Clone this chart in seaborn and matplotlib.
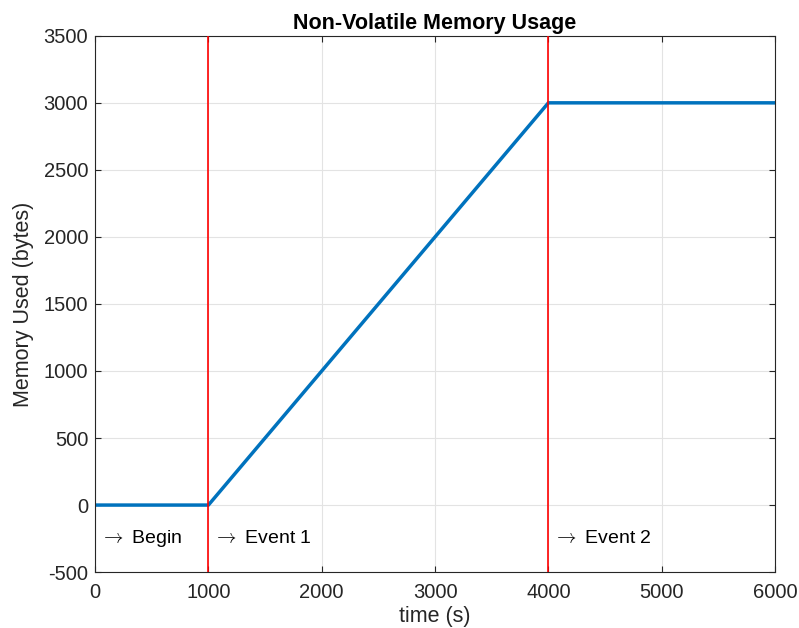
import pandas as pd
import matplotlib
matplotlib.use("Agg")
import matplotlib.pyplot as plt
import seaborn as sns

# data
time_s = [0, 1000, 4000, 6000]
memory_bytes = [0, 0, 3000, 3000]
event_times = [1000, 4000]
label_times = [0, 1000, 4000]
label_texts = [r"$\rightarrow$ Begin", r"$\rightarrow$ Event 1", r"$\rightarrow$ Event 2"]
label_y = -250

sns.set_theme(style="whitegrid")
plt.rcParams['font.family'] = ['Liberation Sans', 'DejaVu Sans']
plt.rcParams['axes.unicode_minus'] = False
plt.rcParams['mathtext.fontset'] = 'cm'

df = pd.DataFrame({"time": time_s, "mem": memory_bytes})

fig = plt.figure(figsize=(7.99, 6.28), dpi=100)
ax = fig.add_axes([0.119, 0.089, 0.851, 0.854])

sns.lineplot(data=df, x="time", y="mem", ax=ax, color="#0072BD", linewidth=2.5)
for t in event_times:
    ax.axvline(t, color="#ff0000", linewidth=1.2, zorder=3)
for t, s in zip(label_times, label_texts):
    ax.text(t + 40, label_y, s, fontsize=14, color="#000000", va="center", ha="left")

ax.set_xlim(0, 6000)
ax.set_ylim(-500, 3500)
ax.set_xticks(range(0, 6001, 1000))
ax.set_yticks(range(-500, 3501, 500))
ax.set_facecolor("white")
ax.grid(True, color="#e3e3e3", linewidth=0.8)
for sp in ax.spines.values():
    sp.set_visible(True)
    sp.set_color("#262626")
    sp.set_linewidth(0.8)
ax.tick_params(direction="in", length=4, width=0.8, colors="#262626",
               labelsize=14.5, top=True, right=True, bottom=True, left=True)
ax.tick_params(axis="x", pad=8)
ax.tick_params(axis="y", pad=5)
ax.set_title("Non-Volatile Memory Usage", fontsize=15.5, fontweight="bold",
             color="#000000", pad=5)
ax.set_xlabel("time (s)", fontsize=15.5, color="#262626", labelpad=3)
ax.set_ylabel("Memory Used (bytes)", fontsize=15.5, color="#262626", labelpad=7)

fig.savefig("out.png", dpi=100)
